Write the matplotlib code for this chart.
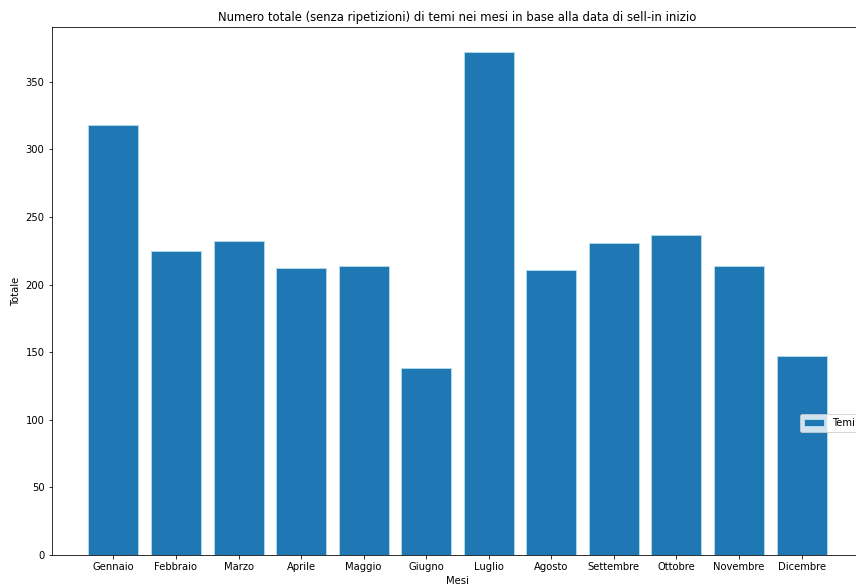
import matplotlib
matplotlib.use('Agg')
import matplotlib.pyplot as plt

mesi = ['Gennaio', 'Febbraio', 'Marzo', 'Aprile', 'Maggio', 'Giugno',
        'Luglio', 'Agosto', 'Settembre', 'Ottobre', 'Novembre', 'Dicembre']
temi = [318, 225, 232, 212, 214, 138, 372, 211, 231, 237, 214, 147]


def plot_temi(mesi, temi, outfile='out.png'):
    fig = plt.figure(figsize=(856 / 72, 587 / 72), dpi=72)
    # axes runs a little past the right edge of the figure
    ax = fig.add_axes([51.5 / 856, 32 / 587, 812 / 856, 528 / 587])

    ax.bar(mesi, temi, color='#1f77b4', edgecolor='lightblue', lw=1,
           label='Temi')
    ax.set_title('Numero totale (senza ripetizioni) di temi nei mesi in base '
                 'alla data di sell-in inizio', fontsize=11.6)
    ax.set_xlabel('Mesi')
    ax.set_ylabel('Totale')
    ax.legend(loc='center right', bbox_to_anchor=(1.0, 0.25))

    fig.savefig(outfile, dpi=72)


if __name__ == '__main__':
    plot_temi(mesi, temi)
